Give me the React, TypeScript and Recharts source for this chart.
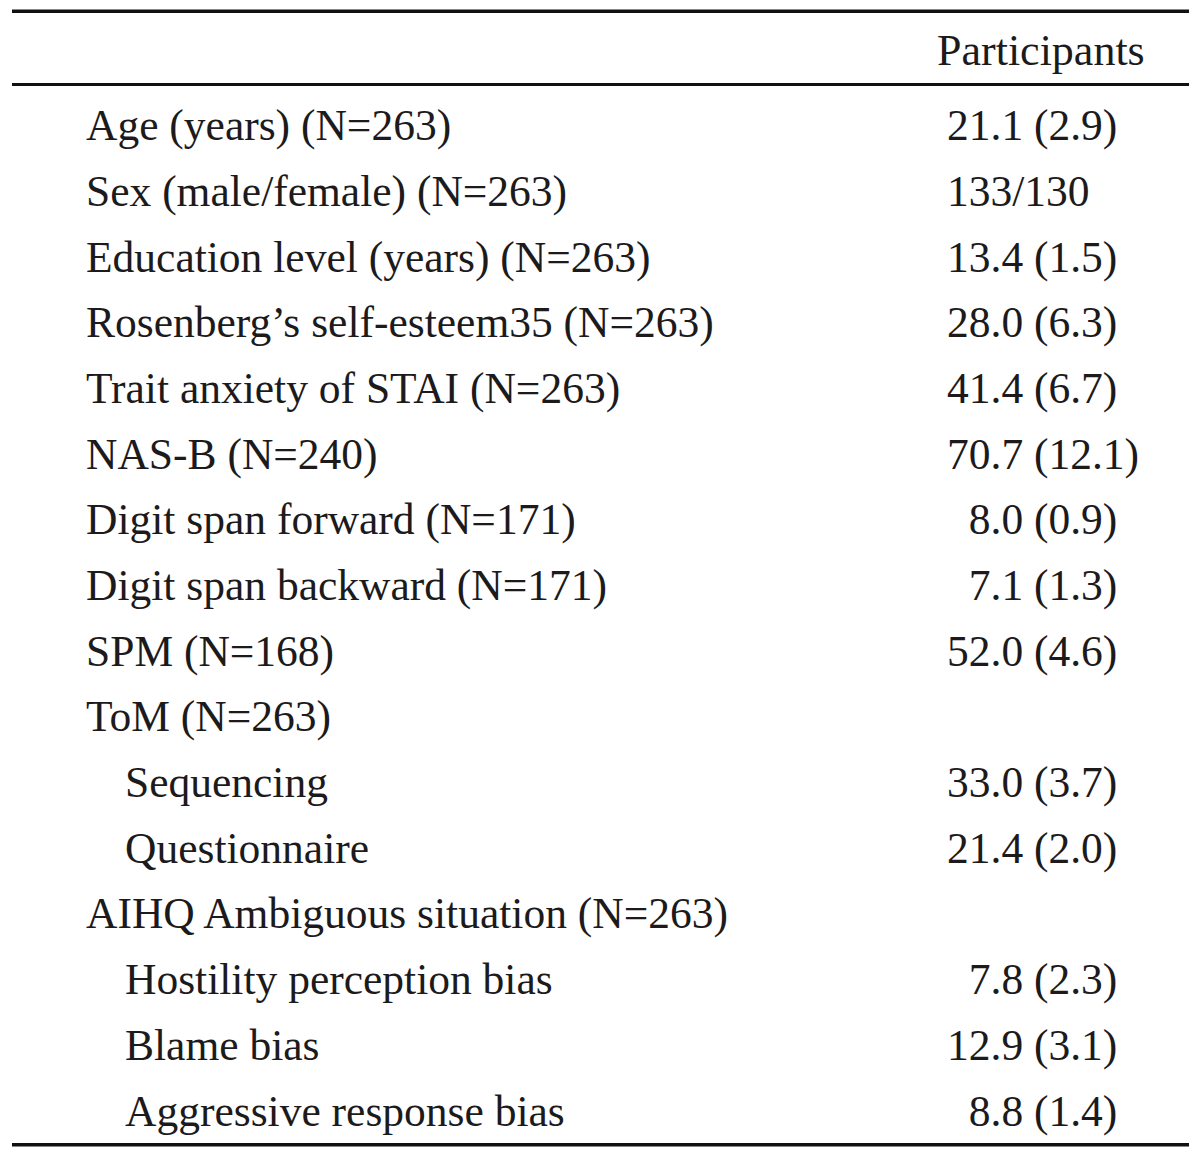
import React from 'react';
import { BarChart, Bar, XAxis, YAxis, Customized } from 'recharts';

const rowLabels = [
  'Age (years) (N=263)',
  'Sex (male/female) (N=263)',
  'Education level (years) (N=263)',
  'Rosenberg\u2019s self-esteem35 (N=263)',
  'Trait anxiety of STAI (N=263)',
  'NAS-B (N=240)',
  'Digit span forward (N=171)',
  'Digit span backward (N=171)',
  'SPM (N=168)',
  'ToM (N=263)',
  'Sequencing',
  'Questionnaire',
  'AIHQ Ambiguous situation (N=263)',
  'Hostility perception bias',
  'Blame bias',
  'Aggressive response bias',
];

const rowIndent = [0, 0, 0, 0, 0, 0, 0, 0, 0, 0, 1, 1, 0, 1, 1, 1];

const participantValues = [
  '21.1 (2.9)',
  '133/130',
  '13.4 (1.5)',
  '28.0 (6.3)',
  '41.4 (6.7)',
  '70.7 (12.1)',
  '8.0 (0.9)',
  '7.1 (1.3)',
  '52.0 (4.6)',
  '',
  '33.0 (3.7)',
  '21.4 (2.0)',
  '',
  '7.8 (2.3)',
  '12.9 (3.1)',
  '8.8 (1.4)',
];

const columnHeader = 'Participants';

const data = rowLabels.map((label, i) => ({
  label,
  indent: rowIndent[i],
  value: participantValues[i],
}));

const FONT = "'Liberation Serif', 'Times New Roman', 'DejaVu Serif', serif";
const FS = 43.5;
const INK = '#1c1a1b';
const BASE_SHIFT = 12;

const RowTick = (props: any) => {
  const { y, payload } = props;
  const row = data.find((d) => d.label === payload.value) || data[payload.index];
  const val = row.value;
  const m = /^(\d+)\./.exec(val);
  const dx = m && m[1].length === 1 ? FS * 0.5 : 0;
  return (
    <g>
      <text
        x={86 + row.indent * 39}
        y={y + BASE_SHIFT}
        fontFamily={FONT}
        fontSize={FS}
        fill={INK}
      >
        {row.label}
      </text>
      {val ? (
        <text x={947 + dx} y={y + BASE_SHIFT} fontFamily={FONT} fontSize={FS} fill={INK}>
          {val}
        </text>
      ) : null}
    </g>
  );
};

const Rules = () => (
  <g>
    <line x1={12} x2={1189} y1={11.3} y2={11.3} stroke="#111" strokeWidth={3.5} />
    <line x1={12} x2={1189} y1={84.6} y2={84.6} stroke="#111" strokeWidth={3} />
    <line x1={12} x2={1189} y1={1144.7} y2={1144.7} stroke="#111" strokeWidth={3.5} />
    <text x={937} y={65} fontFamily={FONT} fontSize={44} fill={INK}>
      {columnHeader}
    </text>
  </g>
);

export default function App() {
  return (
    <div style={{ position: 'absolute', left: 0, top: 0, width: 1200, height: 1155, background: '#fff' }}>
      <BarChart
        layout="vertical"
        width={1200}
        height={1155}
        data={data}
        margin={{ top: 95.3, right: 11, bottom: 8.6, left: 12 }}
      >
        <XAxis type="number" domain={[0, 1]} hide />
        <YAxis
          type="category"
          dataKey="label"
          width={1}
          interval={0}
          axisLine={false}
          tickLine={false}
          tick={<RowTick />}
        />
        <Bar dataKey={() => 0} fill="transparent" isAnimationActive={false} />
        <Customized component={Rules} />
      </BarChart>
    </div>
  );
}
